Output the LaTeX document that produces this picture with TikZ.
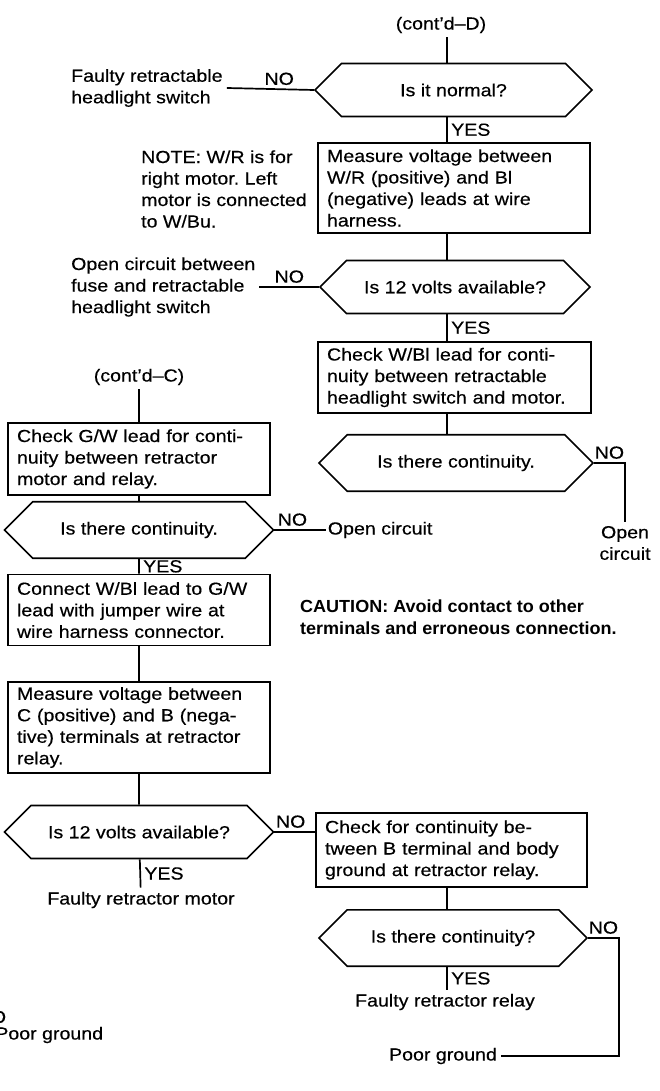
\documentclass[tikz,border=0pt]{standalone}
\usepackage{fontspec}
\setmainfont{Liberation Sans}[FakeStretch=1.12,FakeBold=0.4]
\newfontfamily\cautionfont{Liberation Sans}[FakeStretch=1.03]
\usetikzlibrary{shapes.misc}
\frenchspacing

\begin{document}
\begin{tikzpicture}[x=1pt,y=-1pt,line width=1.7pt,
    font=\fontsize{17.5}{21.5}\selectfont,
    box/.style={draw,align=left,inner xsep=9pt,inner ysep=3pt},
    ask/.style={draw,chamfered rectangle,chamfered rectangle xsep=23pt,
      chamfered rectangle ysep=20pt,minimum height=40pt,inner sep=0pt}]
    \useasboundingbox (0,0) rectangle (659,1091);
    \coordinate (spine) at (447,0);

    \node (contD) at (441,25) {(cont'd--D)};
    \node[ask,minimum width=277pt] (normal) at (453.5,90) {Is it normal?};
    \node[box,text width=254pt,minimum height=90pt] (measure) at (454,188)
      {Measure voltage between\\W/R (positive) and Bl\\(negative) leads at wire\\harness.};
    \node[ask,minimum width=270pt,minimum height=36pt] (volts) at (455,287) {Is 12 volts available?};
    \node[box,text width=255pt,minimum height=71pt] (wbl) at (454.5,377.5)
      {Check W/Bl lead for conti-\\nuity between retractable\\headlight switch and motor.};
    \node[ask,minimum width=274pt] (contR) at (456,463) {Is there continuity.};
    \node[align=center] (openR) at (625,543) {Open\\circuit};

    \node[align=left,anchor=west] (faulty) at (67,88) {Faulty retractable\\headlight switch};
    \node[align=left,anchor=west] (note) at (137,189)
      {NOTE: W/R is for\\right motor. Left\\motor is connected\\to W/Bu.};
    \node[align=left,anchor=west] (fuse) at (67,287)
      {Open circuit between\\fuse and retractable\\headlight switch};

    \node (contC) at (139,377) {(cont'd--C)};
    \node[box,text width=244pt,minimum height=72pt] (gw) at (139,459)
      {Check G/W lead for conti-\\nuity between retractor\\motor and relay.};
    \node[ask,minimum width=269pt,minimum height=36pt] (contL) at (139,530) {Is there continuity.};
    \node[anchor=west,inner xsep=1pt] (openL) at (326,530) {Open circuit};
    \node[box,text width=244pt,minimum height=71pt] (jumper) at (139,610)
      {Connect W/Bl lead to G/W\\lead with jumper wire at\\wire harness connector.};
    \node[align=left,anchor=west,font=\fontsize{17.5}{21.5}\cautionfont\bfseries] (caution) at (296,617)
      {CAUTION: Avoid contact to other\\terminals and erroneous connection.};
    \node[box,text width=244pt,minimum height=91pt] (relayV) at (139,727.5)
      {Measure voltage between\\C (positive) and B (nega-\\tive) terminals at retractor\\relay.};
    \node[ask,minimum width=269pt] (voltsL) at (139,832) {Is 12 volts available?};
    \node (motor) at (141,900) {Faulty retractor motor};

    \node[box,text width=253pt,minimum height=74pt] (ground) at (451.5,850)
      {Check for continuity be-\\tween B terminal and body\\ground at retractor relay.};
    \node[ask,minimum width=268pt,minimum height=43pt] (contB) at (453,938) {Is there continuity?};
    \node (relay) at (445,1002) {Faulty retractor relay};
    \node (poor) at (443,1056) {Poor ground};
    \coordinate (gndTurn) at (619,1056);

    % cut off at the page edge
    \node[anchor=east,inner sep=0pt] (cutNo) at (7,1017) {NO};
    \node[anchor=east,inner sep=0pt] (cutPoor) at (104,1035) {Poor ground};

    % right branch
    \draw (contD.south -| spine) -- (normal.north -| spine);
    \draw (faulty.east) -- node[above,pos=0.6] {NO} (normal.west);
    \draw (normal.south -| spine) -- node[right] {YES} (measure.north -| spine);
    \draw (measure.south -| spine) -- (volts.north -| spine);
    \draw (fuse.east) -- node[above] {NO} (volts.west);
    \draw (volts.south -| spine) -- node[right] {YES} (wbl.north -| spine);
    \draw (wbl.south -| spine) -- (contR.north -| spine);
    \draw (contR.east) -| node[above,pos=0.25] {NO} (openR.north);

    % left branch
    \draw (contC) -- (gw);
    \draw (gw) -- (contL);
    \draw (contL.east) -- node[above,pos=0.35] {NO} (openL.west);
    \draw (contL) -- node[right] {YES} (jumper);
    \draw (jumper) -- (relayV);
    \draw (relayV) -- (voltsL);
    \draw (voltsL) -- node[right] {YES} (motor);
    \draw (voltsL.east) -- node[above,pos=0.4] {NO} (voltsL.east -| ground.west);

    % ground check
    \draw (ground.south -| spine) -- (contB.north -| spine);
    \draw (contB.south -| spine) -- node[right] {YES} (relay.north -| spine);
    \draw (contB.east) -| node[above,pos=0.25] {NO} (gndTurn) -- (poor.east);
\end{tikzpicture}
\end{document}
